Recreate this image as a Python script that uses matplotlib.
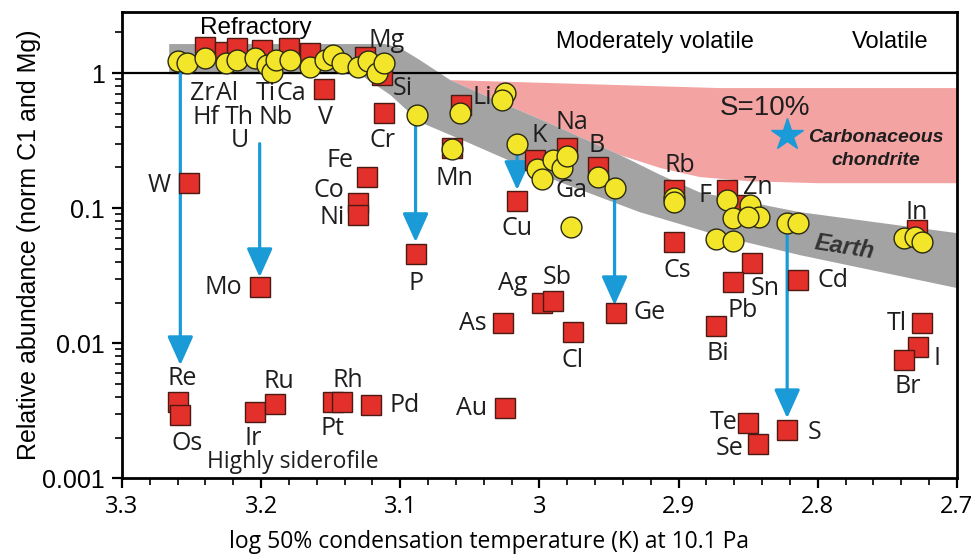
import matplotlib
matplotlib.use("Agg")
import matplotlib.pyplot as plt
from matplotlib.patches import Polygon

# ---------------- data ----------------
# red squares (x = log Tc, y = relative abundance)
sq_x = [3.240, 3.226, 3.217, 3.199, 3.180, 3.165, 3.125, 3.113,
        3.155, 3.112, 3.252, 3.201, 3.124, 3.130, 3.130, 3.089,
        3.056, 3.063, 3.016, 3.003, 2.980, 2.958, 2.903, 2.903,
        2.865, 2.857, 2.729, 2.998, 2.990, 3.026, 2.976, 2.945,
        3.025, 2.847, 2.861, 2.814, 2.873, 2.725, 2.728, 2.738,
        2.850, 2.843, 2.822, 3.260, 3.258, 3.204, 3.190, 3.148,
        3.142, 3.121]
sq_y = [1.56, 1.43, 1.53, 1.48, 1.53, 1.41, 1.31, 0.97,
        0.76, 0.506, 0.153, 0.026, 0.170, 0.109, 0.0888, 0.0456,
        0.579, 0.278, 0.113, 0.227, 0.278, 0.201, 0.136, 0.056,
        0.136, 0.105, 0.0687, 0.0198, 0.0205, 0.0141, 0.0121, 0.0167,
        0.0033, 0.0391, 0.0283, 0.0293, 0.0134, 0.0141, 0.00934, 0.00748,
        0.00255, 0.00179, 0.00227, 0.00366, 0.00293, 0.00308, 0.00353, 0.00366,
        0.00366, 0.00347]

# yellow circles
ci_x = [3.260, 3.253, 3.240, 3.225, 3.217, 3.204, 3.196, 3.192, 3.189,
        3.179, 3.165, 3.154, 3.148, 3.142, 3.130, 3.123, 3.117, 3.112,
        3.088, 3.025, 3.027, 3.057, 3.063, 3.016, 3.002, 2.998, 2.990,
        2.984, 2.980, 2.958, 2.946, 2.977, 2.903, 2.903, 2.865, 2.861,
        2.849, 2.842, 2.850, 2.873, 2.861, 2.822, 2.814, 2.738, 2.730, 2.725]
ci_y = [1.23, 1.19, 1.29, 1.19, 1.25, 1.29, 1.15, 1.02, 1.25,
        1.25, 1.10, 1.25, 1.36, 1.19, 1.10, 1.23, 1.00, 1.19,
        0.489, 0.711, 0.631, 0.506, 0.273, 0.298, 0.194, 0.164, 0.227,
        0.198, 0.243, 0.170, 0.141, 0.0723, 0.119, 0.111, 0.115, 0.0843,
        0.105, 0.0858, 0.0858, 0.0589, 0.0570, 0.0774, 0.0774, 0.060, 0.061, 0.056]

# element labels
lab_text = ["Zr", "Al", "Ti", "Ca", "Hf", "Th", "Nb", "U", "V", "Si", "Cr", "Mg",
            "Li", "Mn", "K", "Na", "B", "Ga", "Cu", "Rb", "F", "Zn", "In",
            "W", "Fe", "Co", "Ni", "Mo", "P", "Ag", "Sb", "Ge", "As", "Cl", "Cs",
            "Sn", "Pb", "Cd", "Bi", "Tl", "I", "Br", "Te", "Se", "S", "Au",
            "Re", "Os", "Ir", "Ru", "Rh", "Pt", "Pd"]
lab_x = [3.2425, 3.2246, 3.1966, 3.1786, 3.2397, 3.216, 3.1894, 3.2152, 3.1534, 3.098, 3.1125, 3.110,
         3.041, 3.061, 3.000, 2.977, 2.959, 2.977, 3.016, 2.899, 2.881, 2.843, 2.729,
         3.273, 3.143, 3.151, 3.149, 3.227, 3.089, 3.019, 2.987, 2.921, 3.048, 2.976, 2.901,
         2.838, 2.854, 2.789, 2.872, 2.743, 2.714, 2.735, 2.868, 2.863, 2.802, 3.049,
         3.257, 3.253, 3.206, 3.187, 3.138, 3.149, 3.097]
lab_y = [0.711, 0.711, 0.711, 0.711, 0.472, 0.472, 0.472, 0.319, 0.472, 0.774, 0.319, 1.75,
         0.664, 0.167, 0.347, 0.434, 0.293, 0.136, 0.0711, 0.208, 0.125, 0.143, 0.0934,
         0.148, 0.227, 0.136, 0.0858, 0.026, 0.0278, 0.0278, 0.0308, 0.0170, 0.0141, 0.00748, 0.0347,
         0.0256, 0.0175, 0.0293, 0.00843, 0.0141, 0.00774, 0.0048, 0.0026, 0.00167, 0.00219, 0.0033,
         0.00551, 0.00182, 0.00198, 0.00524, 0.00532, 0.00235, 0.00347]

# depletion arrows: x, start y, tip y
arr_x = [3.258, 3.201, 3.089, 3.016, 2.946, 2.822]
arr_y0 = [1.0, 0.30, 0.412, 0.26, 0.123, 0.0664]
arr_y1 = [0.00687, 0.0308, 0.056, 0.136, 0.0191, 0.00278]

# Earth band outline
earth_up_x = [3.266, 3.111, 3.100, 3.086, 3.064, 3.030, 2.993, 2.942, 2.913, 2.885, 2.813, 2.700]
earth_up_y = [1.64, 1.64, 1.53, 1.25, 0.887, 0.62, 0.426, 0.247, 0.176, 0.131, 0.0934, 0.0653]
earth_lo_x = [3.266, 3.129, 3.107, 3.086, 3.052, 2.993, 2.928, 2.870, 2.813, 2.700]
earth_lo_y = [0.98, 0.98, 0.687, 0.434, 0.308, 0.167, 0.0934, 0.0621, 0.0449, 0.0256]

# S=10% carbonaceous chondrite region outline
cc_up_x = [3.064, 2.870, 2.700]
cc_up_y = [0.887, 0.774, 0.774]
cc_lo_x = [3.064, 3.030, 2.993, 2.942, 2.913, 2.885, 2.849, 2.800, 2.700]
cc_lo_y = [0.887, 0.62, 0.426, 0.247, 0.198, 0.170, 0.158, 0.153, 0.153]

star_x, star_y = 2.822, 0.347

# ---------------- figure ----------------
fig = plt.figure(figsize=(9.75, 5.6), dpi=100)
ax = fig.add_axes([0.125, 0.146, 0.8565, 0.8325])
ax.set_yscale("log")
ax.set_xlim(3.3, 2.7)
ax.set_ylim(0.001, 2.83)

pink = "#f4a3a3"
grey = "#a3a3a3"
blue = "#1a9bd8"
red = "#e3302a"
yellow = "#f3e62a"

cc_poly = list(zip(cc_up_x, cc_up_y)) + list(zip(cc_lo_x[::-1], cc_lo_y[::-1]))
ax.add_patch(Polygon(cc_poly, closed=True, facecolor=pink, edgecolor="none", zorder=1))
earth_poly = list(zip(earth_up_x, earth_up_y)) + list(zip(earth_lo_x[::-1], earth_lo_y[::-1]))
ax.add_patch(Polygon(earth_poly, closed=True, facecolor=grey, edgecolor="none", zorder=2))

ax.axhline(1.0, color="black", lw=1.6, zorder=3)

for x, y0, y1 in zip(arr_x, arr_y0, arr_y1):
    ax.annotate("", xy=(x, y1), xytext=(x, y0),
                arrowprops=dict(arrowstyle="-|>,head_length=0.8,head_width=0.36",
                                color=blue, lw=2.3, mutation_scale=22,
                                shrinkA=0, shrinkB=0), zorder=4)

ax.plot(sq_x, sq_y, ls="none", marker="s", markersize=15,
        markerfacecolor=red, markeredgecolor="#4a1a14", markeredgewidth=1.0, zorder=5)
ax.plot(ci_x, ci_y, ls="none", marker="o", markersize=15,
        markerfacecolor=yellow, markeredgecolor="#2a2a10", markeredgewidth=1.0, zorder=6)

ax.plot([star_x], [star_y], ls="none", marker="*", markersize=24, color=blue, zorder=6)

lab_font = ["Open Sans", "DejaVu Sans"]
for t, x, y in zip(lab_text, lab_x, lab_y):
    ax.text(x, y, t, ha="center", va="center", fontsize=18, family=lab_font,
            color="#1e1e1e", zorder=7)

arial = ["Liberation Sans", "DejaVu Sans"]
ax.text(3.204, 2.15, "Refractory", ha="center", va="center", fontsize=17.5, family=arial, zorder=7)
ax.text(2.917, 1.70, "Moderately volatile", ha="center", va="center", fontsize=17, family=arial, zorder=7)
ax.text(2.748, 1.70, "Volatile", ha="center", va="center", fontsize=17, family=arial, zorder=7)
ax.text(3.177, 0.00131, "Highly siderofile", ha="center", va="center", fontsize=16.5,
        family=lab_font, color="#1e1e1e", zorder=7)
ax.text(2.838, 0.551, "S=10%", ha="center", va="center", fontsize=20, family=arial,
        color="#1e1e1e", zorder=7)
ax.text(2.758, 0.336, "Carbonaceous", ha="center", va="center", fontsize=14, family=arial,
        weight="bold", style="italic", color="#1e1e1e", zorder=7)
ax.text(2.758, 0.227, "chondrite", ha="center", va="center", fontsize=14, family=arial,
        weight="bold", style="italic", color="#1e1e1e", zorder=7)
ax.text(2.781, 0.0514, "Earth", ha="center", va="center", fontsize=17, family=arial,
        weight="bold", style="italic", rotation=-9, color="#333333", zorder=7)

# axes styling
for s in ax.spines.values():
    s.set_linewidth(2.0)
ax.set_xticks([3.3, 3.2, 3.1, 3.0, 2.9, 2.8, 2.7])
ax.set_xticklabels(["3.3", "3.2", "3.1", "3", "2.9", "2.8", "2.7"], family=lab_font, fontsize=17)
ax.set_xticks([3.3 - 0.02 * i for i in range(31)], minor=True)
ax.set_yticks([0.001, 0.01, 0.1, 1])
ax.set_yticklabels(["0.001", "0.01", "0.1", "1"], family=arial, fontsize=18)
ax.tick_params(axis="both", which="major", direction="out", length=7, width=1.6, pad=5)
ax.tick_params(axis="both", which="minor", direction="out", length=5, width=1.2)
ax.set_xlabel("log 50% condensation temperature (K) at 10.1 Pa", family=lab_font,
              fontsize=16.5)
ax.xaxis.set_label_coords(0.44, -0.112)
ax.set_ylabel("Relative abundance (norm C1 and Mg)", family=arial, fontsize=18, labelpad=1)

fig.savefig("out.png", dpi=100)
